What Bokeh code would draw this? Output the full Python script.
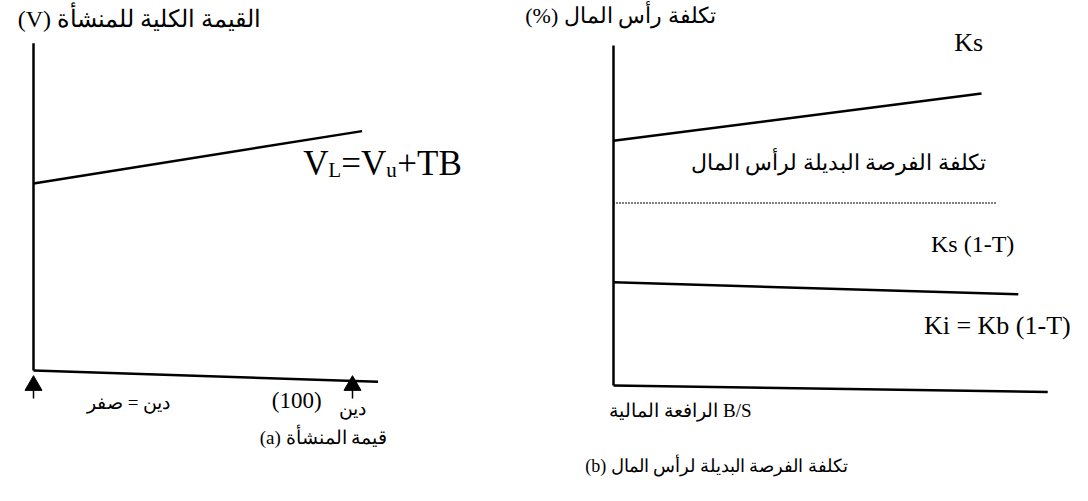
from bokeh.plotting import figure
from bokeh.layouts import row
from bokeh.models import Range1d
from bokeh.core.properties import value
from bokeh.embed import file_html
from bokeh.resources import INLINE

# ---------------- data: panel (a) firm value vs debt ----------------
debt = [0, 103]                 # debt level along the V_L line
firm_value = [100, 128]         # V_L = V_u + TB
debt_marks = [0, 100]           # arrows: debt = 0, debt = 100
debt_axis = [0, 108]            # extent of horizontal axis
debt_axis_drop = [0, -6]        # scanned axis drifts slightly
value_axis = [0, 175]           # extent of vertical axis

# ---------------- data: panel (b) cost of capital vs leverage --------
leverage = [0, 1.0]
ks = [15.3, 18.25]              # Ks
lev_ks_tax = [0, 1.04]
ks_tax = [11.4, 11.4]           # Ks (1-T)
lev_ki = [0, 1.10]
ki = [6.45, 5.7]                # Ki = Kb (1-T)
lev_axis = [0, 1.18]
lev_axis_drop = [0, -0.4]
cost_axis = [0, 21.25]

SERIF = value("Liberation Serif")
H = 485


def base(width, xr, yr):
    p = figure(width=width, height=H, x_range=Range1d(*xr), y_range=Range1d(*yr),
               output_backend="svg", toolbar_location=None,
               x_axis_location=None, y_axis_location=None, min_border=0)
    p.grid.visible = False
    p.outline_line_color = None
    p.background_fill_color = "white"
    p.border_fill_color = "white"
    return p


def txt(p, x, y, s, size, align="center", baseline="middle", xo=0, yo=0):
    p.text(x=[x], y=[y], text=[s], x_offset=xo, y_offset=yo, text_font=SERIF,
           text_font_size=size, text_align=align, text_baseline=baseline,
           text_color="black")


# ---------------- panel (a) ----------------
p1 = base(510, (-10.345, 149.53), (-61.50, 197.86))
p1.line([0, 0], value_axis, line_color="black", line_width=2.5)
p1.line(debt_axis, debt_axis_drop, line_color="black", line_width=2.5)
p1.line(debt, firm_value, line_color="black", line_width=2.5)
p1.scatter(debt_marks, [-8, -8], marker="triangle", size=17, fill_color="black",
           line_color="black")
for d in debt_marks:
    p1.line([d, d], [-8, -15], line_color="black", line_width=1.5)

txt(p1, 33.2, 188.2, "(V) القيمة الكلية للمنشأة", "24px")

# V_L = V_u + TB composed of pieces
x0, yb = 84.6, 110.7
pieces = [("V", 0, 0, "35px"), ("L", 25, 7, "21px"), ("=V", 38, 0, "35px"),
          ("u", 83, 7, "21px"), ("+TB", 94, 0, "35px")]
for t, xo, yo, fs in pieces:
    txt(p1, x0, yb, t, fs, align="left", baseline="alphabetic", xo=xo, yo=yo)

txt(p1, 29.8, -17.1, "دين = صفر", "19px")
txt(p1, 82.5, -16.0, "(100)", "23px")
txt(p1, 100, -20.3, "دين", "19px")
txt(p1, 90.9, -35.8, "(a) قيمة المنشأة", "19px")

# ---------------- panel (b) ----------------
p2 = base(562, (-0.2799, 1.2473), (-6.25, 24.0625))
p2.line([0, 0], cost_axis, line_color="black", line_width=2.5)
p2.line(lev_axis, lev_axis_drop, line_color="black", line_width=2.5)
p2.line(leverage, ks, line_color="black", line_width=2.5)
p2.line(lev_ks_tax, ks_tax, line_color="black", line_width=2, line_dash="1 2")
p2.line(lev_ki, ki, line_color="black", line_width=2.5)

txt(p2, 0.019, 23.125, "(%) تكلفة رأس المال", "22px")
txt(p2, 0.965, 21.44, "Ks", "26px")
txt(p2, 0.611, 13.94, "تكلفة الفرصة البديلة لرأس المال", "22px")
txt(p2, 0.976, 8.875, "Ks (1-T)", "24px")
txt(p2, 1.043, 3.75, "Ki = Kb (1-T)", "26px")
txt(p2, 0.182, -1.5625, "الرافعة المالية B/S", "19px")
txt(p2, 0.280, -5.06, "(b) تكلفة الفرصة البديلة لرأس المال", "18px")

layout = row(p1, p2)
open("out.html", "w").write(file_html(layout, INLINE))
